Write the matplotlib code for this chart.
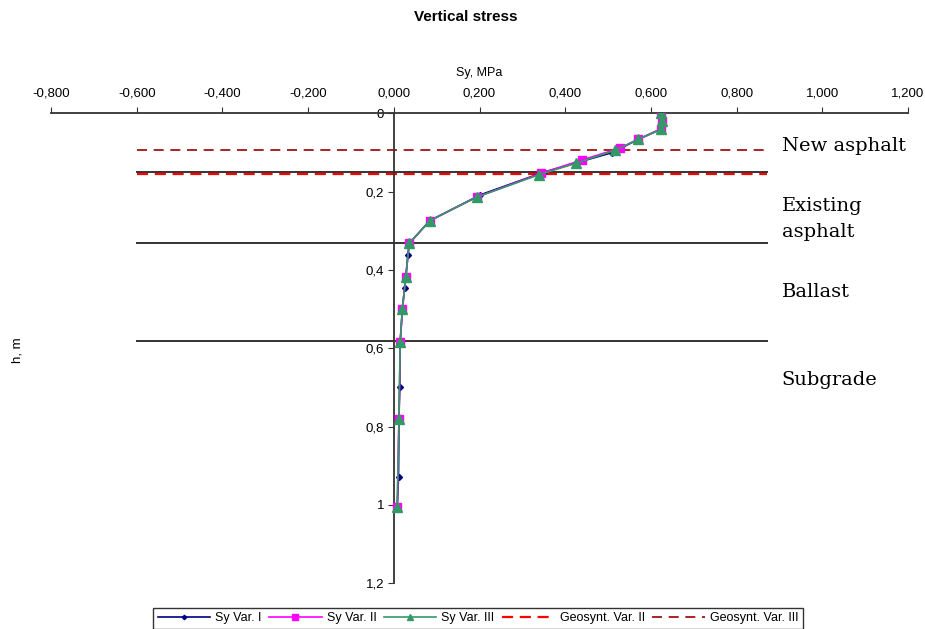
import matplotlib
matplotlib.use("Agg")
import matplotlib.pyplot as plt
from matplotlib.ticker import FuncFormatter

plt.rcParams['font.family'] = ['Liberation Sans', 'DejaVu Sans']

# stress profiles (Sy, MPa) against depth h (m)
h_var1 = [0, 0.02, 0.04, 0.066, 0.10, 0.15, 0.208, 0.274, 0.332, 0.361, 0.418, 0.446, 0.50, 0.583, 0.698, 0.781, 0.929, 1.006]
sy_var1 = [0.623, 0.627, 0.623, 0.571, 0.51, 0.35, 0.202, 0.084, 0.036, 0.033, 0.028, 0.025, 0.020, 0.015, 0.014, 0.012, 0.011, 0.008]

h_var2 = [0, 0.019, 0.041, 0.066, 0.089, 0.119, 0.153, 0.214, 0.274, 0.332, 0.418, 0.50, 0.583, 0.781, 1.006]
sy_var2 = [0.623, 0.627, 0.623, 0.571, 0.527, 0.439, 0.344, 0.193, 0.084, 0.036, 0.028, 0.020, 0.015, 0.012, 0.008]

h_var3 = [0, 0.019, 0.041, 0.066, 0.094, 0.127, 0.157, 0.214, 0.274, 0.332, 0.418, 0.50, 0.583, 0.781, 1.006]
sy_var3 = [0.623, 0.627, 0.623, 0.571, 0.517, 0.426, 0.338, 0.193, 0.084, 0.036, 0.028, 0.020, 0.015, 0.012, 0.008]

# layer boundaries and geosynthetic positions
line_x = [-0.6, 0.872]
layer_bounds = [0.149, 0.33, 0.582]
geo_var2 = 0.155
geo_var3 = 0.094

layer_names = ["New asphalt", "Existing\nasphalt", "Ballast", "Subgrade"]
layer_label_h = [0.083, 0.27, 0.456, 0.68]

x_ticks = [-0.8, -0.6, -0.4, -0.2, 0, 0.2, 0.4, 0.6, 0.8, 1.0, 1.2]
y_ticks = [0, 0.2, 0.4, 0.6, 0.8, 1.0, 1.2]

fig = plt.figure(figsize=(9.25, 6.29), dpi=100)
ax = fig.add_axes([51 / 925, 1 - 583.3 / 629, 857 / 925, 469.9 / 629])

for hb in layer_bounds:
    ax.plot(line_x, [hb, hb], color='#333333', lw=1.4, zorder=1)

ax.plot(sy_var1, h_var1, color='#000080', lw=1.2, marker='D', ms=3, label='Sy Var. I', zorder=3)
ax.plot(sy_var2, h_var2, color='#ff00ff', lw=1.2, marker='s', ms=6, label='Sy Var. II', zorder=4)
ax.plot(sy_var3, h_var3, color='#339966', lw=1.2, marker='^', ms=6.5, label='Sy Var. III', zorder=5)
ax.plot(line_x, [geo_var2, geo_var2], color='#ff0000', lw=1.6, ls=(0, (5, 3)), label='Geosynt. Var. II', zorder=2)
ax.plot(line_x, [geo_var3, geo_var3], color='#990000', lw=1.2, ls=(0, (6, 4)), label='Geosynt. Var. III', zorder=2)

for name, hl in zip(layer_names, layer_label_h):
    ax.text(0.905, hl, name, fontsize=14, family='DejaVu Serif', va='center', ha='left',
            linespacing=1.6)

ax.set_xlim(-0.8, 1.2)
ax.set_ylim(1.2, 0)
ax.set_xticks(x_ticks)
ax.set_yticks(y_ticks)
ax.xaxis.set_major_formatter(FuncFormatter(lambda v, p: f"{v:.3f}".replace('.', ',').replace('-0,000', '0,000')))
ax.yaxis.set_major_formatter(FuncFormatter(lambda v, p: f"{v:g}".replace('.', ',')))

ax.spines['right'].set_visible(False)
ax.spines['bottom'].set_visible(False)
ax.spines['left'].set_position(('data', 0))
for s in ('top', 'left'):
    ax.spines[s].set_color('#333333')
    ax.spines[s].set_linewidth(1.3)

ax.xaxis.tick_top()
ax.xaxis.set_label_position('top')
ax.tick_params(axis='x', direction='out', length=4, pad=6, labelsize=9.5, color='#333333')
ax.tick_params(axis='y', direction='out', length=4, pad=3, labelsize=9.5, color='#333333')
ax.set_xlabel('Sy, MPa', fontsize=9, labelpad=8)

fig.text(18 / 925, 1 - 350 / 629, 'h, m', rotation=90, fontsize=9.5, ha='center', va='center')
fig.text(0.503, 1 - 17 / 629, 'Vertical stress', fontsize=11, fontweight='bold', ha='center', va='center')

leg = fig.legend(loc='upper center', bbox_to_anchor=(478 / 925, 1 - 608 / 629), ncol=5,
                 fontsize=9, frameon=True, fancybox=False, edgecolor='black',
                 handlelength=4.2, handletextpad=0.4, columnspacing=0.6,
                 borderpad=0.35, borderaxespad=0, markerscale=0.75)
leg.get_frame().set_linewidth(1.0)

fig.savefig('out.png', dpi=100)
